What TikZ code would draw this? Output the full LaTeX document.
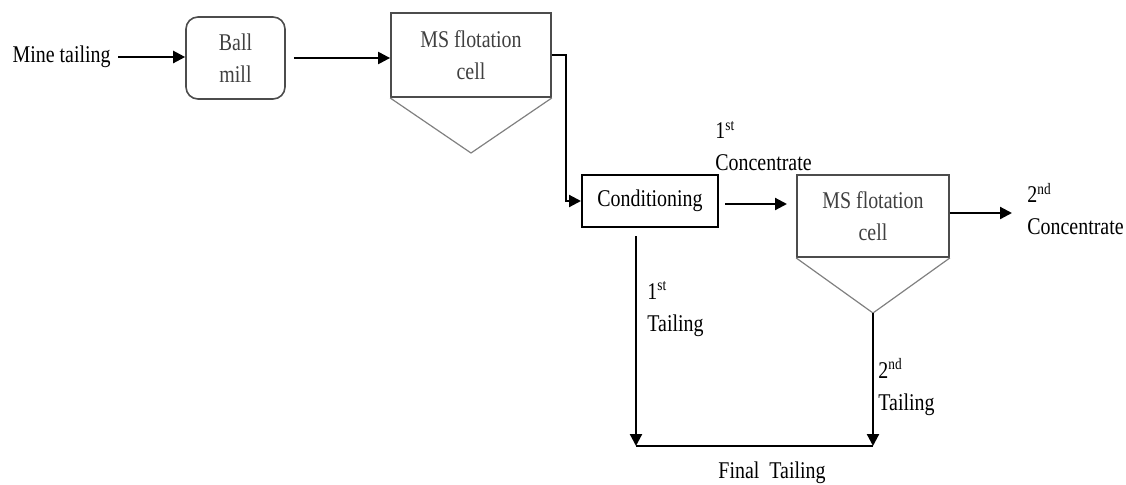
\documentclass[tikz,border=0pt]{standalone}
\usepackage{fontspec}
\setmainfont{Liberation Serif}[FakeStretch=0.83]
\usetikzlibrary{arrows.meta, calc, positioning}
\tikzstyle{mill} = [rectangle, rounded corners=6pt, draw=black!70, line width=0.8pt,
	text=black!75, align=center, minimum width=49.5pt, minimum height=41pt]
\tikzstyle{cell} = [rectangle, draw=black!70, line width=0.9pt, text=black!75,
	align=center, minimum width=80pt, minimum height=42pt]
\tikzstyle{stage} = [rectangle, draw=black, line width=1pt, minimum width=68pt, minimum height=26pt]
\tikzstyle{cone} = [draw=black!50, line width=0.6pt]
\tikzstyle{stream} = [align=left, inner sep=0pt]
\tikzstyle{arrow} = [-{Triangle[length=6pt,width=6pt]}, line width=1.1pt]

\begin{document}
\begin{tikzpicture}[x=0.5pt, y=-0.5pt, font=\fontsize{12pt}{16pt}\selectfont]
	\useasboundingbox (0,0) rectangle (1126,484);

	% set up process units
	\node (feed) [anchor=east, inner sep=0pt] at (111,57) {Mine tailing};
	\node (ballmill) [mill] at (235.5,58) {Ball\\mill};
	\node (cell1) [cell] at (471,55) {MS flotation\\cell};
	\node (cond) [stage] at (650,201) {Conditioning};
	\node (cell2) [cell, minimum width=76pt, minimum height=41pt] at (873,216) {MS flotation\\cell};

	% cones under the flotation cells
	\coordinate (apex1) at (471,153);
	\coordinate (apex2) at (873,313);
	\draw [cone] (cell1.south west) -- (apex1) -- (cell1.south east);
	\draw [cone] (cell2.south west) -- (apex2) -- (cell2.south east);

	% set up stream labels
	\node (conc1) [stream, anchor=west] at (715,146) {1\textsuperscript{st}\\Concentrate};
	\node (conc2) [stream, anchor=west] at (1027,209) {2\textsuperscript{nd}\\Concentrate};
	\node (tailing1) [stream, anchor=west] at (647,309) {1\textsuperscript{st}\\Tailing};
	\node (tailing2) [stream, anchor=west] at (878,387) {2\textsuperscript{nd}\\Tailing};
	\node (final) [stream] at (772,473) {Final~~Tailing};

	% set up streams between units
	\coordinate (bend1) at (566,55);
	\coordinate (c2in) at (787,204);
	\coordinate (c2out) at (1012,213);
	\coordinate (tail1) at (636,446);
	\coordinate (tail2) at (873,446);
	\draw [arrow] ([xshift=3.5pt]feed.east) -- (ballmill.west |- feed.east);
	\draw [arrow] ([xshift=4pt]ballmill.east) -- (cell1.west |- ballmill.east);
	\draw [arrow] (cell1.east) -- (bend1) |- (cond.west);
	\draw [arrow] ($(cond.east |- c2in)+(6,0)$) -- (c2in);
	\draw [arrow] (cell2.east |- c2out) -- (c2out);
	\draw [arrow] ($(cond.south -| tail1)+(0,8)$) -- (tail1);
	\draw [arrow] (apex2) -- (tail2);
	\draw [line width=1.1pt] (tail1) -- (tail2);

\end{tikzpicture}
\end{document}
